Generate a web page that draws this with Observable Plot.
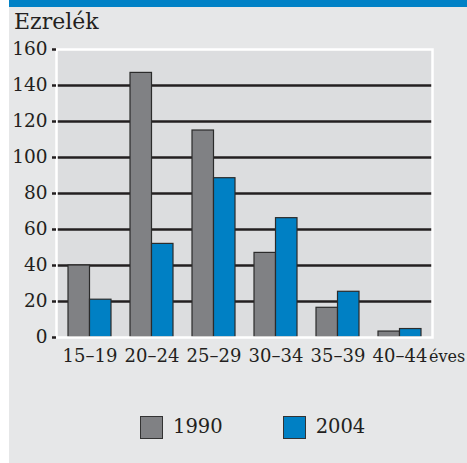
<!DOCTYPE html>
<html>
<head>
<meta charset="utf-8">
<script src="https://cdn.jsdelivr.net/npm/d3@7"></script>
<script src="https://cdn.jsdelivr.net/npm/@observablehq/plot@0.6"></script>
<style>
  html, body { margin: 0; padding: 0; background: #ffffff; }
  #wrap { position: relative; width: 467px; height: 463px; overflow: hidden; font-family: "DejaVu Serif", serif; color: #231f20; }
  #panel { position: absolute; left: 9px; top: 0; width: 458px; height: 463px; background: #e6e7e8; }
  #topbar { position: absolute; left: 9px; top: 0; width: 458px; height: 7px; background: #0081c6; }
  #chart { position: absolute; left: 0; top: 0; }
  #title { position: absolute; left: 14px; top: 12px; font-size: 22px; line-height: 20px; white-space: nowrap; }
  #unit { position: absolute; left: 429px; top: 347px; font-size: 16px; line-height: 20px; white-space: nowrap; }
  #legend { position: absolute; left: 140px; top: 415px; display: flex; align-items: center; gap: 60px; }
  .item { display: flex; align-items: center; gap: 10px; font-size: 19.5px; line-height: 24px; }
  .sw { width: 21px; height: 21px; border: 1.5px solid #333333; }
</style>
</head>
<body>
<div id="wrap">
  <div id="panel"></div>
  <div id="topbar"></div>
  <div id="chart"></div>
  <div id="title">Ezrelék</div>
  <div id="unit">éves</div>
  <div id="legend"></div>
</div>
<script>
const ages = ["15–19", "20–24", "25–29", "30–34", "35–39", "40–44"];
const v1990 = [40, 147, 115, 47, 16.5, 3.3];
const v2004 = [21, 52, 88.5, 66.3, 25.4, 4.7];
const years = ["1990", "2004"];
const colors = ["#808184", "#0080c4"];
const yTicks = [0, 20, 40, 60, 80, 100, 120, 140, 160];
const gridValues = [20, 40, 60, 80, 100, 120, 140];
const titleText = "Ezrelék";
const unitText = "éves";

const data = ages.flatMap((a, i) => [
  {age: a, year: years[0], value: v1990[i]},
  {age: a, year: years[1], value: v2004[i]}
]);

function build(half) {
  return Plot.plot({
    width: 467,
    height: 380,
    marginLeft: 56,
    marginRight: 35,
    marginTop: 49,
    marginBottom: 43,
    style: {background: "transparent", fontFamily: "DejaVu Serif, serif", color: "#231f20"},
    x: {domain: ages, paddingInner: 0.31, paddingOuter: 0.155, label: null},
    y: {domain: [0, 160], label: null},
    color: {domain: years, range: colors},
    marks: [
      Plot.frame({fill: "#dcdddf", stroke: null}),
      Plot.ruleY(gridValues, {stroke: "#231f20", strokeWidth: 2.5}),
      Plot.barY(data.filter(d => d.year === years[0]), {x: "age", y: "value", fill: "year", stroke: "#2b2b2b", strokeWidth: 1.2, insetRight: half}),
      Plot.barY(data.filter(d => d.year === years[1]), {x: "age", y: "value", fill: "year", stroke: "#2b2b2b", strokeWidth: 1.2, insetLeft: half}),
      Plot.frame({stroke: "#ffffff", strokeWidth: 2.5}),
      Plot.axisY({ticks: yTicks, tickSize: 4, tickPadding: 5, fontSize: 18.5, stroke: "#231f20", strokeWidth: 2.5, label: null}),
      Plot.axisX({tickSize: 0, tickPadding: 12, fontSize: 18, label: null})
    ]
  });
}

const probe = build(0);
const bw = probe.scale("x").bandwidth;
const chart = build(bw / 2);
document.getElementById("chart").appendChild(chart);
document.getElementById("title").textContent = titleText;
document.getElementById("unit").textContent = unitText;

const legend = document.getElementById("legend");
years.forEach((y, i) => {
  const item = document.createElement("div");
  item.className = "item";
  const sw = document.createElement("div");
  sw.className = "sw";
  sw.style.background = colors[i];
  const t = document.createElement("span");
  t.textContent = y;
  item.appendChild(sw);
  item.appendChild(t);
  legend.appendChild(item);
});
</script>
</body>
</html>
